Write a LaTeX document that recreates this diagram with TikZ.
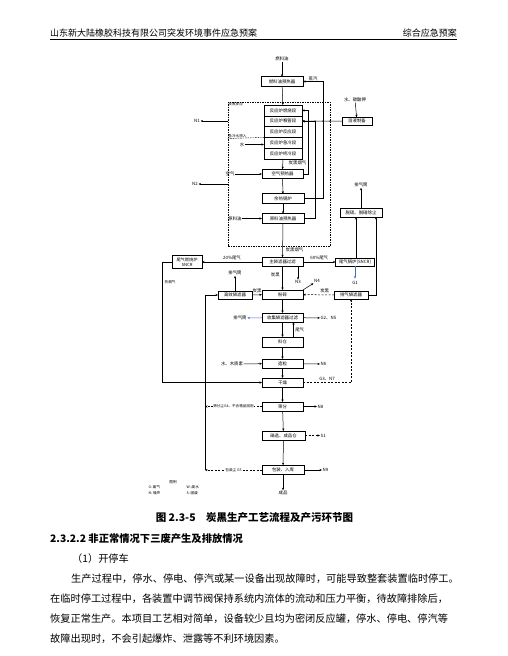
\documentclass[tikz,border=0pt]{standalone}
\usepackage{fontspec}
\setmainfont{Noto Sans CJK SC}
\usetikzlibrary{arrows.meta,positioning}
\definecolor{ventblue}{RGB}{70,110,190}

\begin{document}
\begin{tikzpicture}[
  x=1pt,y=-1pt,
  >={Stealth[length=2.6pt,width=2.2pt]},
  node distance=0pt,
  every node/.style={inner sep=0.5pt,font=\fontsize{4.4}{5}\selectfont},
  box/.style={draw,line width=0.6pt,minimum width=41pt,minimum height=9.5pt,outer sep=0pt},
  stk/.style={box,minimum width=38pt,minimum height=10.8pt},
  small/.style={font=\fontsize{3.6}{4}\selectfont},
  flow/.style={draw,line width=0.5pt,->},
  dflow/.style={flow,dash pattern=on 2pt off 1.5pt},
  bflow/.style={flow,draw=ventblue},
  jn/.style={circle,fill,inner sep=0pt,minimum size=1.5pt},
  bodytext/.style={anchor=west,inner sep=0pt,font=\fontsize{10.2}{12}\selectfont}
]
\useasboundingbox (0,0) rectangle (508,656);

% page header
\node (headl) [anchor=west,inner sep=0pt,font=\fontsize{9}{10}\selectfont] at (50,33) {山东新大陆橡胶科技有限公司突发环境事件应急预案};
\node (headr) [anchor=east,inner sep=0pt,font=\fontsize{9}{10}\selectfont] at (457,33) {综合应急预案};
\draw[line width=0.9pt] (50,39.5) -- (457,39.5);

% reaction section
\node (react) [draw,line width=0.5pt,dash pattern=on 1.5pt off 1pt,minimum width=102pt,minimum height=144pt] at (279,174) {};
\node [anchor=north west,small] at (react.north west) {炭黑反应};

\node (fueltxt) at (282,59) {燃料油};
\node (fuelpre) [box,minimum width=42pt] at (282,81.5) {燃料油预热器};

\node (r1) [stk] at (283,110.4) {反应炉燃烧段};
\node (r2) [stk,below=of r1] {反应炉喉管段};
\node (r3) [stk,below=of r2] {反应炉反应段};
\node (r4) [stk,below=of r3] {反应炉急冷段};
\node (r5) [stk,below=of r4] {反应炉终冷段};

\node (airtxt) at (230,174) {空气};
\node (airpre) [box] at (282.5,174) {空气预热器};
\node (boiler) [box,minimum width=42pt] at (283,198.5) {余热锅炉};
\node (oiltxt) at (235,218.5) {原料油};
\node (oilpre) [box,minimum width=42pt] at (283,218.5) {原料油预热器};
\node (quench) at (242,144.5) {水};
\draw[line width=0.4pt,dash pattern=on 1.5pt off 1pt] (react.west |- 0,138.5) -- (r4.north west);
\node [anchor=south west,small] at (react.west |- 0,138) {急冷水喷入};

\node (n1) at (197,121) {N1};
\node (n2) at (195,184) {N2};

\node (soltxt) at (355,100) {水、碳酸钾};
\node (solprep) [box,minimum width=30pt,minimum height=8pt] at (357,121.2) {溶液制备};

% after reaction
\node (mainbag) [box] at (282.5,262) {主袋滤器过滤};
\node (tailfurn) [box,minimum width=30pt,minimum height=12.5pt,align=center,font=\fontsize{4.2}{4.6}\selectfont] at (187,262) {尾气燃烧炉\\SNCR};
\node (tailboil) [box,minimum width=39pt,minimum height=8pt] at (355,262) {尾气锅炉(SNCR)};
\node (g1) at (355,283) {G1};
\node (desulf) [box,minimum width=42pt,minimum height=9pt] at (361,212.5) {脱硫、脱硝除尘};
\node (vent1) at (361,185) {排气筒};
\node (n3) at (298,282) {N3};

\node (crush) [box,minimum height=9pt] at (282.5,294.5) {粉碎};
\node (n4) at (317,281) {N4};
\node (hibag) [box,minimum width=34pt,minimum height=8pt] at (235,295) {高效袋滤器};
\node (vent2) at (235,273) {排气筒};
\node (exhbag) [box,minimum width=34pt,minimum height=8pt] at (351,295) {排气袋滤器};

\node (collect) [box,minimum height=9pt] at (282.5,317.5) {收集袋滤器过滤};
\node (vent3) at (240,318) {排气筒};
\node (g2n5) [anchor=west] at (320,318) {G2、N5};

\node (silo) [box,minimum height=10pt] at (282.5,342) {料仓};
\node (granul) [box,minimum height=9pt] at (282.5,363.5) {造粒};
\node (watertxt) at (232,364) {水、木质素};
\node (n6) [anchor=west] at (320,364) {N6};
\node (dry) [box,minimum height=9pt] at (282.5,382.5) {干燥};
\node (screen) [box,minimum height=9pt] at (282.5,406.5) {筛分};
\node (n8) [anchor=west] at (317,406.5) {N8};
\node (magnet) [box,minimum width=43pt,minimum height=9pt] at (283.5,435.5) {磁选、成品仓};
\node (s1) [anchor=west] at (320,435.5) {S1};
\node (pack) [box,minimum width=42pt,minimum height=9.5pt] at (283,470) {包装、入库};
\node (n9) [anchor=west] at (322,470) {N9};
\node (product) at (283,493) {成品};
\coordinate (dustend) at (205,470);

% main stream
\draw (fueltxt) edge[flow] (fuelpre);
\draw (fuelpre) edge[flow] (r1);
\draw (r5) edge[flow] (airpre);
\node [anchor=west] at (288,163) {炭黑烟气};
\draw (airpre) edge[flow] (boiler);
\draw (boiler) edge[flow] (oilpre);
\draw (oilpre) edge[flow] (mainbag);
\node [anchor=west] at (285,250) {炭黑烟气};
\draw (mainbag) edge[flow] node[left=2pt,pos=0.35] {炭黑} (crush);
\draw (crush) edge[flow] (collect);
\draw (collect) edge[flow] (silo);
\draw[flow] ([xshift=11pt]silo.north) -- ([xshift=11pt]collect.south) node[midway,right=1pt] {尾气};
\draw (silo) edge[flow] (granul);
\draw (granul) edge[flow] (dry);
\draw (dry) edge[flow] (screen);
\draw (screen) edge[flow] (magnet);
\draw (magnet) edge[flow] (pack);
\draw (pack) edge[flow] (product);

% inputs to the reactor
\draw (airtxt) edge[flow] (airpre);
\draw (oiltxt) edge[flow] (oilpre);
\draw (quench) edge[flow] (quench -| r4.west);
\draw[flow] (airpre.east) -- ++(5.5,0) |- (r1.east);
\draw[flow] (oilpre.east) -- ++(11,0) |- (r2.east);
\draw[flow] (boiler.east) -- ++(19,0) |- (fuelpre.east);
\node at (313,79) {蒸汽};
\draw (soltxt) edge[flow] (solprep);
\draw[flow] (solprep.west) -- (r2.east);
\node [jn] at (315,121.2) {};
\node [jn] at (323,121.2) {};
\node [jn] at (330,121.2) {};
\draw[flow] (react.west |- n1) -- (n1);
\draw[flow] (react.west |- n2) -- (n2);

% tail gas
\draw (mainbag) edge[flow] node[above=1pt] {20\%尾气} (tailfurn);
\draw (mainbag) edge[flow] node[above=1pt] {60\%尾气} (tailboil);
\draw[flow] (tailfurn.west) -- ++(-10,0) |- (dry.west);
\node [anchor=west,small] at (164,282) {热烟气};
\draw (tailboil) edge[bflow,shorten >=2pt] (g1);
\draw (tailboil.north -| 356,0) edge[flow] (desulf.south -| 356,0);
\draw (desulf) edge[flow] (vent1);
\draw[flow] (exhbag.east) -| ([xshift=15pt]desulf.south);
\draw[flow] (mainbag.south -| n3) -- (n3);

% dust and vents
\draw (hibag) edge[flow] node[above=1pt] {炭黑} (crush);
\draw (hibag) edge[flow] (vent2);
\draw (exhbag) edge[dflow] node[above=1pt,pos=0.3] {炭黑} (crush);
\draw[flow] (crush.north east) -- (n4);
\draw (collect) edge[bflow] (vent3);
\draw[flow] (collect) -- (g2n5);
\draw[dflow] (dry.east) -| node[above=1pt,pos=0.25] {G3、N7} (exhbag.south);
\draw (watertxt) edge[flow] (granul);
\draw[flow] (granul) -- (n6);
\draw[flow] (screen) -- (n8);
\draw[dflow] (magnet) -- (s1);
\draw[flow] (pack) -- (n9);
\draw[flow] (dustend) |- (hibag.west);
\draw[dflow] (screen.west) -- (screen.west -| dustend) node[midway,fill=white,small] {筛分尘G4、不合格品回用};
\draw[dflow] (pack.west) -- (dustend) node[midway,fill=white,small] {包装尘 G5};

% legend
\node (legend) [small] at (173,482) {图例};
\node [anchor=west,small] at (148,487.5) {G: 废气};
\node [anchor=west,small] at (186,487.5) {W: 废水};
\node [anchor=west,small] at (148,493) {N: 噪声};
\node [anchor=west,small] at (186,493) {S: 固废};

% caption and text
\node (caption) [inner sep=0pt,font=\bfseries\fontsize{10.5}{12}\selectfont] at (254.5,518) {图 2.3-5\quad 炭黑生产工艺流程及产污环节图};
\node (sect) [anchor=west,inner sep=0pt,font=\bfseries\fontsize{10.3}{12}\selectfont] at (50,539) {2.3.2.2 非正常情况下三废产生及排放情况};
\node (item) [bodytext] at (72,559) {（1）开停车};
\node (p1) [bodytext] at (71,579) {生产过程中，停水、停电、停汽或某一设备出现故障时，可能导致整套装置临时停工。};
\node (p2) [bodytext] at (50,599) {在临时停工过程中，各装置中调节阀保持系统内流体的流动和压力平衡，待故障排除后，};
\node (p3) [bodytext] at (50,619) {恢复正常生产。本项目工艺相对简单，设备较少且均为密闭反应罐，停水、停电、停汽等};
\node (p4) [bodytext] at (50,639) {故障出现时，不会引起爆炸、泄露等不利环境因素。};
\end{tikzpicture}
\end{document}
